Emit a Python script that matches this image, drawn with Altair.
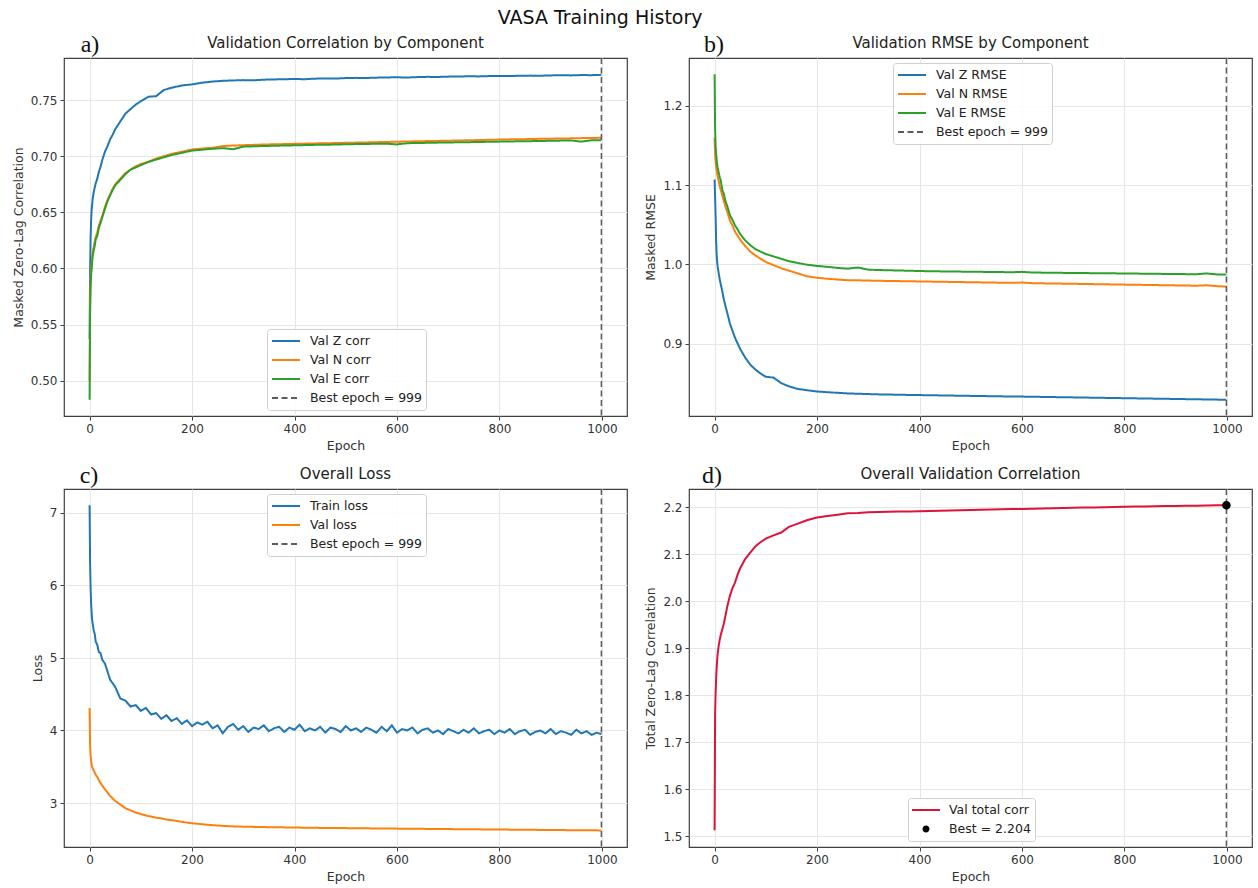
import altair as alt
import pandas as pd

FONT = "DejaVu Sans"
SERIF = "Liberation Serif"

# ---------------- data ----------------
EPOCHS = [0, 1, 2, 3, 4, 5, 6, 8, 10, 12, 15, 18, 21, 25, 30, 35, 40, 45, 50, 60,
          70, 80, 90, 100, 115, 130, 145, 160, 180, 200,
          220, 240, 260, 280, 300, 320, 340, 360, 380, 400,
          420, 440, 460, 480, 500, 520, 540, 560, 580, 600,
          620, 640, 660, 680, 700, 720, 740, 760, 780, 800,
          820, 840, 860, 880, 900, 920, 940, 960, 980, 999]

VAL_Z_CORR = [0.537, 0.598, 0.628, 0.643, 0.652, 0.657, 0.662, 0.668, 0.672, 0.676,
              0.680, 0.686, 0.690, 0.697, 0.704, 0.709, 0.715, 0.719, 0.724, 0.731,
              0.738, 0.742, 0.746, 0.749, 0.753, 0.7535, 0.759, 0.761, 0.763, 0.764,
              0.7655, 0.7665, 0.7672, 0.7675, 0.7678, 0.7676, 0.7682, 0.7684, 0.7686, 0.7688,
              0.7686, 0.7691, 0.7693, 0.7692, 0.7696, 0.7698, 0.7697, 0.7700, 0.7702, 0.7703,
              0.7701, 0.7705, 0.7707, 0.7706, 0.7709, 0.7710, 0.7712, 0.7711, 0.7714, 0.7715,
              0.7714, 0.7717, 0.7718, 0.7717, 0.7720, 0.7721, 0.7720, 0.7723, 0.7722, 0.7725]
VAL_N_CORR = [0.500, 0.570, 0.590, 0.598, 0.604, 0.609, 0.614, 0.619, 0.624, 0.628,
              0.632, 0.638, 0.642, 0.647, 0.655, 0.661, 0.666, 0.671, 0.675, 0.680,
              0.685, 0.688, 0.691, 0.693, 0.695, 0.698, 0.700, 0.702, 0.704, 0.706,
              0.7068, 0.7075, 0.7090, 0.7095, 0.7098, 0.7101, 0.7104, 0.7106, 0.7108, 0.7110,
              0.7112, 0.7114, 0.7115, 0.7117, 0.7119, 0.7121, 0.7123, 0.7125, 0.7127, 0.7129,
              0.7131, 0.7133, 0.7135, 0.7136, 0.7138, 0.7140, 0.7142, 0.7144, 0.7146, 0.7148,
              0.7150, 0.7151, 0.7153, 0.7155, 0.7156, 0.7158, 0.7159, 0.7161, 0.7162, 0.7164]
VAL_E_CORR = [0.483, 0.560, 0.585, 0.594, 0.600, 0.606, 0.611, 0.616, 0.620, 0.626,
              0.629, 0.636, 0.640, 0.646, 0.653, 0.660, 0.665, 0.670, 0.674, 0.679,
              0.684, 0.688, 0.690, 0.692, 0.695, 0.697, 0.699, 0.701, 0.703, 0.705,
              0.7058, 0.7066, 0.7072, 0.7062, 0.7085, 0.7088, 0.7091, 0.7093, 0.7095, 0.7097,
              0.7099, 0.7101, 0.7102, 0.7104, 0.7106, 0.7108, 0.7109, 0.7111, 0.7112, 0.7105,
              0.7116, 0.7118, 0.7119, 0.7121, 0.7122, 0.7124, 0.7125, 0.7127, 0.7128, 0.7130,
              0.7131, 0.7133, 0.7134, 0.7136, 0.7137, 0.7139, 0.7140, 0.7130, 0.7142, 0.7143]

VAL_Z_RMSE = [1.107, 1.085, 1.060, 1.030, 1.012, 1.003, 0.997, 0.989, 0.981, 0.975,
              0.966, 0.956, 0.948, 0.938, 0.925, 0.916, 0.907, 0.900, 0.893, 0.882,
              0.873, 0.867, 0.862, 0.858, 0.857, 0.850, 0.846, 0.843, 0.841, 0.8395,
              0.8385, 0.8378, 0.8370, 0.8366, 0.8362, 0.8358, 0.8356, 0.8353, 0.8351, 0.8349,
              0.8347, 0.8345, 0.8343, 0.8341, 0.8339, 0.8337, 0.8335, 0.8333, 0.8331, 0.8330,
              0.8328, 0.8326, 0.8324, 0.8322, 0.8320, 0.8318, 0.8316, 0.8314, 0.8312, 0.8310,
              0.8308, 0.8306, 0.8304, 0.8302, 0.8300, 0.8298, 0.8296, 0.8294, 0.8292, 0.8290]
VAL_N_RMSE = [1.160, 1.140, 1.130, 1.123, 1.118, 1.114, 1.111, 1.105, 1.099, 1.094,
              1.087, 1.080, 1.073, 1.066, 1.055, 1.049, 1.041, 1.036, 1.031, 1.023,
              1.016, 1.011, 1.007, 1.003, 0.999, 0.995, 0.992, 0.989, 0.985, 0.983,
              0.9818, 0.9808, 0.9800, 0.9798, 0.9795, 0.9792, 0.9790, 0.9788, 0.9786, 0.9784,
              0.9782, 0.9780, 0.9778, 0.9776, 0.9774, 0.9772, 0.9770, 0.9768, 0.9766, 0.9770,
              0.9762, 0.9760, 0.9758, 0.9756, 0.9754, 0.9752, 0.9750, 0.9748, 0.9746, 0.9744,
              0.9742, 0.9740, 0.9738, 0.9736, 0.9734, 0.9732, 0.9730, 0.9735, 0.9725, 0.9718]
VAL_E_RMSE = [1.240, 1.172, 1.150, 1.140, 1.132, 1.126, 1.122, 1.116, 1.110, 1.106,
              1.094, 1.089, 1.080, 1.073, 1.062, 1.056, 1.049, 1.044, 1.038, 1.030,
              1.024, 1.019, 1.016, 1.013, 1.010, 1.007, 1.004, 1.002, 0.9995, 0.998,
              0.9968, 0.9955, 0.9945, 0.9960, 0.9932, 0.9928, 0.9925, 0.9922, 0.9919, 0.9915,
              0.9913, 0.9911, 0.9910, 0.9908, 0.9906, 0.9905, 0.9903, 0.9902, 0.9900, 0.9905,
              0.9897, 0.9895, 0.9894, 0.9892, 0.9891, 0.9890, 0.9888, 0.9887, 0.9886, 0.9884,
              0.9883, 0.9882, 0.9880, 0.9879, 0.9878, 0.9876, 0.9875, 0.9885, 0.9873, 0.9872]

VAL_TOTAL_CORR = [1.513, 1.760, 1.805, 1.835, 1.858, 1.875, 1.888, 1.905, 1.918, 1.928,
                  1.940, 1.952, 1.968, 1.990, 2.012, 2.028, 2.040, 2.057, 2.070, 2.090,
                  2.104, 2.117, 2.126, 2.133, 2.140, 2.146, 2.158, 2.164, 2.172, 2.178,
                  2.181, 2.184, 2.187, 2.1875, 2.189, 2.1895, 2.190, 2.1905, 2.191, 2.1915,
                  2.192, 2.1925, 2.193, 2.1935, 2.194, 2.1945, 2.195, 2.1955, 2.196, 2.196,
                  2.1965, 2.197, 2.1975, 2.198, 2.1985, 2.199, 2.1995, 2.200, 2.2005, 2.201,
                  2.2013, 2.2016, 2.202, 2.2023, 2.2026, 2.203, 2.2032, 2.2035, 2.2038, 2.204]

LOSS_EPOCHS = [0, 1, 2, 3, 4, 5, 6, 8, 10, 12, 15, 18, 21, 25,
               30, 40, 50, 60, 70, 80, 90, 100, 110, 120,
               130, 140, 150, 160, 170, 180, 190, 200, 210, 220,
               230, 240, 250, 260, 270, 280, 290, 300, 310, 320,
               330, 340, 350, 360, 370, 380, 390, 400, 410, 420,
               430, 440, 450, 460, 470, 480, 490, 500, 510, 520,
               530, 540, 550, 560, 570, 580, 590, 600, 610, 620,
               630, 640, 650, 660, 670, 680, 690, 700, 710, 720,
               730, 740, 750, 760, 770, 780, 790, 800, 810, 820,
               830, 840, 850, 860, 870, 880, 890, 900, 910, 920,
               930, 940, 950, 960, 970, 980, 990, 999]
TRAIN_LOSS = [7.10, 6.30, 5.95, 5.75, 5.62, 5.52, 5.47, 5.38, 5.33, 5.22, 5.18, 5.08, 5.07, 4.97,
              4.92, 4.70, 4.60, 4.44, 4.41, 4.33, 4.35, 4.27, 4.31, 4.22,
              4.24, 4.16, 4.21, 4.13, 4.17, 4.09, 4.14, 4.06, 4.11, 4.08,
              4.12, 4.03, 4.07, 3.96, 4.05, 4.09, 4.01, 4.06, 3.98, 4.04,
              4.02, 4.07, 3.99, 4.03, 4.05, 3.98, 4.04, 4.01, 4.08, 3.99,
              4.03, 4.00, 4.05, 3.97, 4.04, 4.02, 3.98, 4.06, 4.00, 4.03,
              3.98, 4.04, 4.01, 3.97, 4.05, 3.99, 4.07, 3.97, 4.02, 4.00,
              4.04, 3.96, 4.01, 4.03, 3.97, 4.00, 3.95, 4.02, 3.99, 3.96,
              4.01, 3.97, 4.03, 3.96, 3.99, 4.01, 3.95, 4.00, 3.97, 4.02,
              3.95, 3.99, 4.01, 3.94, 3.98, 4.00, 3.96, 4.02, 3.95, 3.99,
              3.97, 3.94, 4.01, 3.96, 3.99, 3.94, 3.97, 3.95]
VAL_LOSS = [4.31, 3.80, 3.66, 3.58, 3.53, 3.50, 3.48, 3.45, 3.42, 3.39, 3.36, 3.32, 3.28, 3.24,
            3.19, 3.10, 3.03, 2.98, 2.93, 2.90, 2.87, 2.85, 2.83, 2.815,
            2.80, 2.79, 2.775, 2.765, 2.755, 2.742, 2.732, 2.722, 2.716, 2.709,
            2.702, 2.697, 2.692, 2.687, 2.683, 2.680, 2.678, 2.676, 2.674, 2.673,
            2.671, 2.670, 2.669, 2.668, 2.667, 2.666, 2.665, 2.664, 2.663, 2.662,
            2.661, 2.660, 2.659, 2.659, 2.658, 2.657, 2.656, 2.656, 2.655, 2.654,
            2.653, 2.653, 2.652, 2.651, 2.651, 2.650, 2.649, 2.649, 2.648, 2.647,
            2.647, 2.646, 2.646, 2.645, 2.644, 2.644, 2.643, 2.643, 2.642, 2.641,
            2.641, 2.640, 2.640, 2.639, 2.638, 2.638, 2.637, 2.637, 2.636, 2.635,
            2.635, 2.634, 2.633, 2.633, 2.632, 2.631, 2.631, 2.630, 2.629, 2.629,
            2.628, 2.627, 2.627, 2.626, 2.626, 2.625, 2.625, 2.624]

BEST_EPOCH = 999
BEST_TOTAL = 2.204

X_TICKS = [0, 200, 400, 600, 800, 1000]
X_DOMAIN = [-49.95, 1048.95]

BLUE, ORANGE, GREEN, CRIMSON = "#1f77b4", "#ff7f0e", "#2ca02c", "#dc143c"
DASH_GRAY = "#5c5c5c"

W, H = 563, 358


def long_df(epochs, names, series, field):
    rows = []
    for name, vals in zip(names, series):
        for e, v in zip(epochs, vals):
            rows.append({"epoch": e, "value": v, field: name})
    return pd.DataFrame(rows)


def x_enc():
    return alt.X("epoch:Q", scale=alt.Scale(domain=X_DOMAIN, nice=False, zero=False),
                 axis=alt.Axis(values=X_TICKS, format="d", title="Epoch"))


def y_enc(domain, ticks, fmt, title):
    return alt.Y("value:Q", scale=alt.Scale(domain=domain, nice=False, zero=False),
                 axis=alt.Axis(values=ticks, format=fmt, title=title))


def legend(x, y):
    return alt.Legend(title=None, orient="none", legendX=x, legendY=y,
                      symbolType="stroke", symbolSize=784, symbolStrokeWidth=2,
                      clipHeight=16, rowPadding=3, padding=4, labelOffset=9,
                      labelFont=FONT, labelFontSize=12.5, labelColor="#222",
                      strokeColor="#d0d0d0", fillColor="rgba(255,255,255,0.85)",
                      cornerRadius=3)


def letter_layer(letter, dx):
    return alt.Chart(pd.DataFrame({"t": [letter]})).mark_text(
        font=SERIF, fontSize=24, align="center", baseline="alphabetic", color="#111"
    ).encode(text="t:N", x=alt.value(dx), y=alt.value(-6))


def title(text):
    return alt.TitleParams(text, font=FONT, fontSize=15, fontWeight="normal",
                           color="#222", offset=-18, frame="group")


def line_panel(epochs, names, series, colors, field, ydom, yticks, yfmt, ytitle,
               ttl, letter, lx, ly, ldx):
    df = long_df(epochs, names, series, field)
    best_name = "Best epoch = %d" % BEST_EPOCH
    dom = names + [best_name]
    lg = legend(lx, ly)
    color = alt.Color(field + ":N", scale=alt.Scale(domain=dom, range=colors + [DASH_GRAY]),
                      legend=lg)
    dash = alt.StrokeDash(field + ":N",
                          scale=alt.Scale(domain=dom, range=[[1, 0]] * len(names) + [[6, 3.5]]),
                          legend=lg)
    lines = alt.Chart(df).mark_line(strokeWidth=2).encode(
        x=x_enc(), y=y_enc(ydom, yticks, yfmt, ytitle), color=color, strokeDash=dash)
    rule = alt.Chart(pd.DataFrame({"epoch": [BEST_EPOCH], field: [best_name]})).mark_rule(
        strokeWidth=1.5).encode(x="epoch:Q", color=color, strokeDash=dash)
    return alt.layer(lines, rule, letter_layer(letter, ldx)).properties(
        width=W, height=H, title=title(ttl))


panel_a = line_panel(EPOCHS, ["Val Z corr", "Val N corr", "Val E corr"],
                     [VAL_Z_CORR, VAL_N_CORR, VAL_E_CORR], [BLUE, ORANGE, GREEN], "sa",
                     [0.4685, 0.7875], [0.50, 0.55, 0.60, 0.65, 0.70, 0.75], ".2f",
                     "Masked Zero-Lag Correlation", "Validation Correlation by Component",
                     "a)", 203, 271, 26)
panel_b = line_panel(EPOCHS, ["Val Z RMSE", "Val N RMSE", "Val E RMSE"],
                     [VAL_Z_RMSE, VAL_N_RMSE, VAL_E_RMSE], [BLUE, ORANGE, GREEN], "sb",
                     [0.8085, 1.2605], [0.9, 1.0, 1.1, 1.2], ".1f",
                     "Masked RMSE", "Validation RMSE by Component",
                     "b)", 204, 5, 25)
panel_c = line_panel(LOSS_EPOCHS, ["Train loss", "Val loss"],
                     [TRAIN_LOSS, VAL_LOSS], [BLUE, ORANGE], "sc",
                     [2.396, 7.324], [3, 4, 5, 6, 7], "d",
                     "Loss", "Overall Loss",
                     "c)", 203, 5, 25)

# panel d
RECT_PATH = "M-1,-0.07H1V0.07H-1Z"
DOT_PATH = "M-0.25,0A0.25,0.25 0 1,0 0.25,0A0.25,0.25 0 1,0 -0.25,0Z"
d_names = ["Val total corr", "Best = %.3f" % BEST_TOTAL]
df_d = pd.DataFrame({"epoch": EPOCHS, "value": VAL_TOTAL_CORR})
yd = y_enc([1.4774, 2.2386], [1.5, 1.6, 1.7, 1.8, 1.9, 2.0, 2.1, 2.2], ".1f",
           "Total Zero-Lag Correlation")
line_d = alt.Chart(df_d).mark_line(strokeWidth=2, color=CRIMSON).encode(x=x_enc(), y=yd)
rule_d = alt.Chart(pd.DataFrame({"epoch": [BEST_EPOCH]})).mark_rule(
    strokeWidth=1.5, color=DASH_GRAY, strokeDash=[6, 3.5]).encode(x="epoch:Q")
lg_d = alt.Legend(title=None, orient="none", legendX=219, legendY=309,
                  symbolSize=784, clipHeight=16, rowPadding=3, padding=4, labelOffset=9,
                  labelFont=FONT, labelFontSize=12.5, labelColor="#222",
                  strokeColor="#d0d0d0", fillColor="rgba(255,255,255,0.85)", cornerRadius=3,
                  symbolStrokeWidth=0)
pt_d = alt.Chart(pd.DataFrame({"epoch": [BEST_EPOCH], "value": [BEST_TOTAL],
                               "sd": [d_names[1]]})).mark_point(
    filled=True, opacity=1, size=1156).encode(
    x="epoch:Q", y="value:Q",
    color=alt.Color("sd:N", scale=alt.Scale(domain=d_names, range=[CRIMSON, "#000000"]),
                    legend=lg_d),
    shape=alt.Shape("sd:N", scale=alt.Scale(domain=d_names, range=[RECT_PATH, DOT_PATH]),
                    legend=lg_d))
panel_d = alt.layer(line_d, rule_d, pt_d, letter_layer("d)", 23)).properties(
    width=W, height=H, title=title("Overall Validation Correlation"))

indep = dict(color="independent", strokeDash="independent", shape="independent")
chart = alt.concat(panel_a, panel_b, panel_c, panel_d, columns=2,
                   spacing=alt.RowColnumber(row=73, column=62), bounds="flush"
                   ).resolve_scale(**indep).properties(
    title=alt.TitleParams("VASA Training History", font=FONT, fontSize=19, fontWeight="normal",
                          color="#111", anchor="middle", dx=-32, offset=4),
    padding={"left": 11, "top": 9, "right": 5, "bottom": 5},
    background="white",
).configure_view(stroke="#404040", strokeWidth=1.2).configure_axis(
    labelFont=FONT, titleFont=FONT, labelFontSize=12, titleFontSize=12.5,
    titleFontWeight="normal", labelColor="#333", titleColor="#333",
    tickColor="#404040", tickSize=4, domain=False, gridColor="#e6e6e6",
    labelPadding=3, titlePadding=5)

chart.save("out.html", embed_options={"renderer": "svg", "actions": False})
